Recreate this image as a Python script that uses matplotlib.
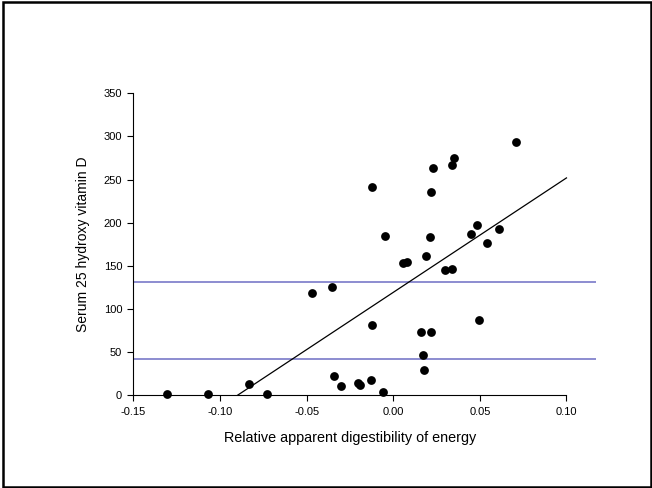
"""
Serum 25 hydroxy vitamin D against relative apparent digestibility of energy
"""
import matplotlib
matplotlib.use("Agg")
import matplotlib.pyplot as plt
from matplotlib.patches import Rectangle
import numpy as np

plt.rcParams['font.family'] = ['Liberation Sans', 'DejaVu Sans']

# digestibility (x) and serum 25(OH)D (y)
digestibility = [-0.1308, -0.107, -0.0831, -0.0729, -0.0471, -0.0352,
                 -0.0121, -0.0050, 0.0058, 0.0079, 0.0189, 0.0210,
                 0.0219, 0.0229, 0.0339, 0.0348, 0.0297, 0.0341,
                 0.0448, 0.0481, 0.0539, 0.0608, 0.0710, 0.0496,
                 -0.0121, 0.0160, 0.0219, 0.0170, 0.0179, -0.0340,
                 -0.0300, -0.0202, -0.0190, -0.0130, -0.0059]
vitamin_d = [2, 2, 13, 2, 119, 126,
             242, 185, 153, 155, 161, 183,
             236, 263, 267, 275, 145, 146,
             187, 197, 177, 193, 294, 87,
             82, 73, 74, 47, 30, 23,
             11, 14, 12, 18, 4]

# regression line
fit_x = [-0.09, 0.10]
fit_slope = 1326.0
fit_intercept = 119.4

# reference levels (horizontal lines)
ref_levels = [131, 42]

x_ticks = [-0.15, -0.10, -0.05, 0.00, 0.05, 0.10]
y_ticks = [0, 50, 100, 150, 200, 250, 300, 350]

fig = plt.figure(figsize=(6.52, 4.88), dpi=100)
ax = fig.add_axes([0.2045, 0.1896, 0.7095, 0.6192])

xmin, xmax = -0.15, 0.117
for lvl in ref_levels:
    ax.plot([xmin, xmax], [lvl, lvl], color='#6e6ec4', lw=1.1, zorder=1)

fx = np.array(fit_x)
ax.plot(fx, fit_slope * fx + fit_intercept, color='black', lw=0.9, zorder=2)

ax.scatter(digestibility, vitamin_d, s=40, color='black', zorder=3,
           clip_on=False, linewidths=0)

ax.set_xlim(xmin, xmax)
ax.set_ylim(0, 350)
ax.set_xticks(x_ticks)
ax.set_xticklabels([f"{t:.2f}" for t in x_ticks])
ax.set_yticks(y_ticks)

for side in ['top', 'right']:
    ax.spines[side].set_visible(False)
ax.spines['bottom'].set_bounds(-0.15, 0.10)
ax.spines['left'].set_linewidth(0.8)
ax.spines['bottom'].set_linewidth(0.8)
ax.tick_params(direction='out', length=4, width=0.8, labelsize=8, pad=4)

ax.set_xlabel("Relative apparent digestibility of energy", fontsize=10.4)
ax.set_ylabel("Serum 25 hydroxy vitamin D", fontsize=10)
ax.xaxis.set_label_coords(0.468, -0.117)
ax.yaxis.set_label_coords(-0.094, 0.5)

# frame around the whole picture
fig.patches.append(Rectangle((0.005, 0.002), 0.993, 0.994, transform=fig.transFigure,
                             fill=False, edgecolor='black', lw=1.8))

fig.savefig("out.png", dpi=100)
